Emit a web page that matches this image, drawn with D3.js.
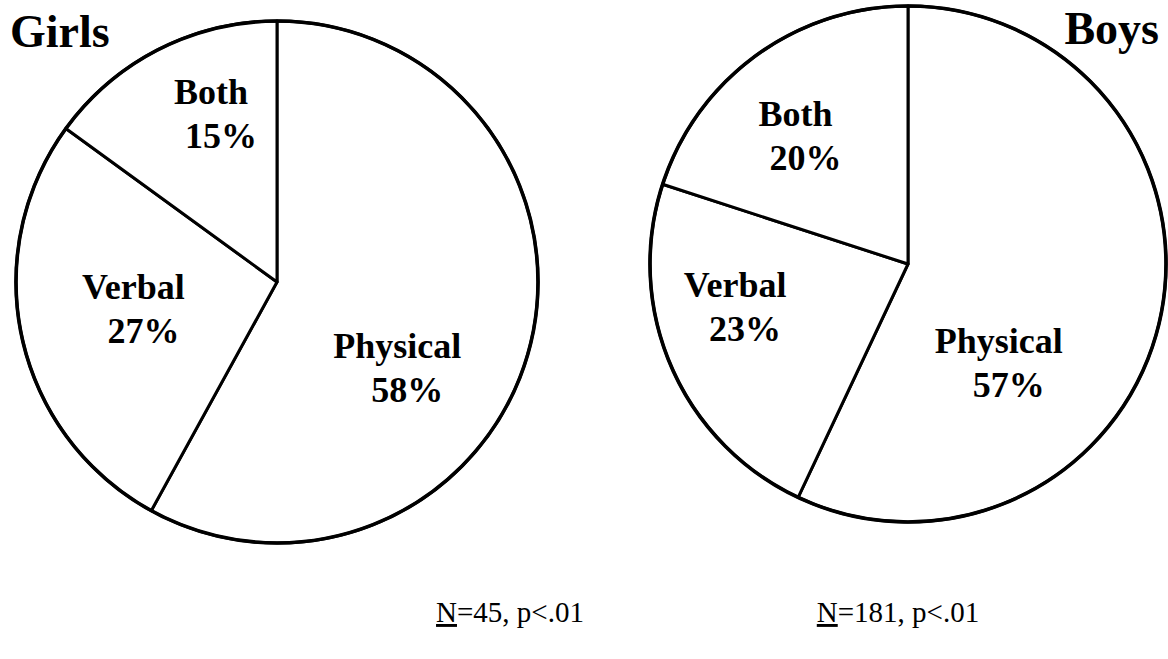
<!DOCTYPE html>
<html>
<head>
<meta charset="utf-8">
<script src="https://cdn.jsdelivr.net/npm/d3@7/dist/d3.min.js"></script>
<style>
  body { margin: 0; background: #fff; }
  svg text { font-family: "Liberation Serif", "Times New Roman", serif; fill: #000; }
</style>
</head>
<body>
<div id="chart"></div>
<script>
// data
var categories = ["Physical", "Verbal", "Both"];
var groups = ["Girls", "Boys"];
var girlsValues = [58, 27, 15];
var boysValues = [57, 23, 20];
var sampleSizes = [45, 181];
var pTexts = ["p<.01", "p<.01"];

// layout (pixels)
var width = 1168, height = 659;
var pies = [
  { cx: 277, cy: 282, r: 261, values: girlsValues,
    title: { x: 10, y: 47, anchor: "start" },
    note: { x: 510, y: 622 },
    nudge: [[-39, 44], [27, -10], [16, -17]] },
  { cx: 908, cy: 264, r: 258, values: boysValues,
    title: { x: 1159, y: 44, anchor: "end" },
    note: { x: 898, y: 622 },
    nudge: [[-68, 62], [-14, -24], [-9, 8]] }
];
var lineGap = 44;

var svg = d3.select("#chart")
  .append("svg")
    .attr("width", width)
    .attr("height", height);

svg.append("rect")
  .attr("width", width)
  .attr("height", height)
  .attr("fill", "#fff");

var pie = d3.pie().sort(null).value(function(d) { return d; });

pies.forEach(function(p, gi) {
  var g = svg.append("g")
    .attr("transform", `translate(${p.cx}, ${p.cy})`);

  var arc = d3.arc().innerRadius(0).outerRadius(p.r);
  var labelArc = d3.arc().innerRadius(p.r * 0.65).outerRadius(p.r * 0.65);
  var arcs = pie(p.values);

  g.selectAll("path.slice")
    .data(arcs)
    .enter()
    .append("path")
      .attr("class", "slice")
      .attr("d", arc)
      .attr("fill", "#fff")
      .attr("stroke", "#000")
      .attr("stroke-width", 3)
      .attr("stroke-linejoin", "round");

  // outer ring slightly heavier
  g.append("circle")
    .attr("r", p.r)
    .attr("fill", "none")
    .attr("stroke", "#000")
    .attr("stroke-width", 3.6);

  var labels = g.selectAll("text.lab")
    .data(arcs)
    .enter()
    .append("text")
      .attr("class", "lab")
      .attr("text-anchor", "middle")
      .attr("font-weight", "bold")
      .attr("font-size", "36px")
      .attr("transform", function(d, i) {
        var c = labelArc.centroid(d);
        return `translate(${c[0] + p.nudge[i][0]}, ${c[1] + p.nudge[i][1] - 10})`;
      });

  labels.append("tspan")
    .attr("x", -5)
    .attr("y", 0)
    .text(function(d, i) { return categories[i]; });

  labels.append("tspan")
    .attr("x", 5)
    .attr("y", lineGap)
    .text(function(d) { return d.data + "%"; });

  svg.append("text")
    .attr("x", p.title.x)
    .attr("y", p.title.y)
    .attr("text-anchor", p.title.anchor)
    .attr("font-weight", "bold")
    .attr("font-size", "46px")
    .text(groups[gi]);

  var note = svg.append("text")
    .attr("x", p.note.x)
    .attr("y", p.note.y)
    .attr("text-anchor", "middle")
    .attr("font-size", "29px");
  note.append("tspan")
    .attr("text-decoration", "underline")
    .text("N");
  note.append("tspan")
    .text("=" + sampleSizes[gi] + ", " + pTexts[gi]);
});
</script>
</body>
</html>
